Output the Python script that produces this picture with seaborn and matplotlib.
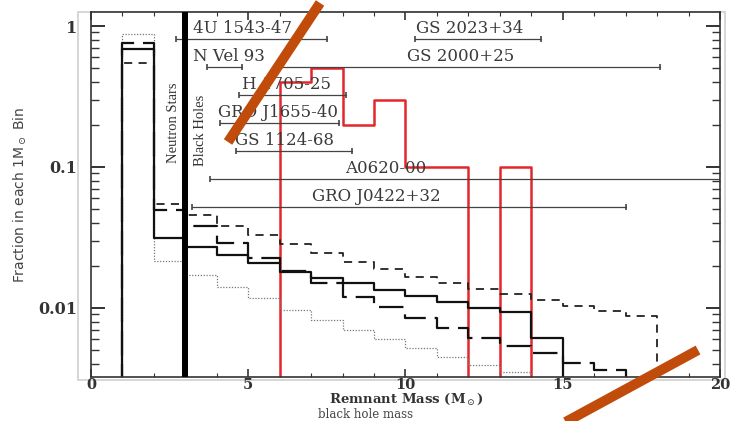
import numpy as np
import pandas as pd
import matplotlib
matplotlib.use("Agg")
import matplotlib.pyplot as plt
import seaborn as sns
from matplotlib.ticker import FixedLocator, LogLocator, NullFormatter, MultipleLocator
from matplotlib.lines import Line2D
from matplotlib.patches import Rectangle

# ---------------- data (fraction in each 1 Msun bin) ----------------
bin_start = 1  # first bin of the model distributions starts at 1 Msun
model_solid = [0.687, 0.0314, 0.0271, 0.0238, 0.0208, 0.0180, 0.0163, 0.0150,
               0.0134, 0.0122, 0.0110, 0.0100, 0.00937, 0.00613]
model_longdash = [0.758, 0.0495, 0.0382, 0.0289, 0.0226, 0.0183, 0.0150, 0.0120,
                  0.0102, 0.00850, 0.00721, 0.00613, 0.00538, 0.00480, 0.00407, 0.00363]
model_shortdash = [0.547, 0.0547, 0.0457, 0.0382, 0.0329, 0.0284, 0.0245, 0.0212,
                   0.0189, 0.0166, 0.0150, 0.0136, 0.0126, 0.0114, 0.0103, 0.00952, 0.00878]
model_dotted = [0.878, 0.0215, 0.0171, 0.0141, 0.0118, 0.00968, 0.00822, 0.00698,
                0.00603, 0.00520, 0.00449, 0.00394, 0.00352]

observed_start = 6
observed_bh = [0.4, 0.5, 0.2, 0.3, 0.1, 0.1, 0.0, 0.1]

ns_bh_boundary = 3

systems = ["4U 1543-47", "GS 2023+34", "N Vel 93", "GS 2000+25", "H 1705-25",
           "GRO J1655-40", "GS 1124-68", "A0620-00", "GRO J0422+32"]
mass_lo = [2.7, 10.3, 3.7, 5.9, 4.7, 4.1, 4.6, 3.8, 3.2]
mass_hi = [7.5, 14.3, 4.8, 18.1, 8.1, 7.9, 8.3, 25.0, 17.0]

# ---------------- layout (not data) ----------------
system_row = [0, 0, 1, 1, 2, 3, 4, 5, 6]
label_x = [3.25, 10.32, 3.25, 10.06, 4.81, 4.04, 4.59, 8.09, 7.04]
row_top, row_step, label_dy = 0.926, 0.0767, 0.030
BASE = 1e-5


def steps(start, vals):
    v = np.asarray(vals, dtype=float)
    v = np.where(v > 0, v, BASE)
    edges = start + np.arange(len(v) + 1)
    return pd.DataFrame({"mass": np.repeat(edges, 2),
                         "frac": np.r_[BASE, np.repeat(v, 2), BASE]})


sns.set_theme(style="ticks")
plt.rcParams["font.family"] = ["DejaVu Serif", "DejaVu Sans"]
plt.rcParams["mathtext.fontset"] = "dejavuserif"

fig = plt.figure(figsize=(7.32, 4.21), dpi=100)
ax = fig.add_axes([0.1243, 0.1045, 0.8593, 0.867])
ax.set_yscale("log")
ax.set_xlim(0, 20)
ax.set_ylim(0.00324, 1.257)

# ghost frame from the scan
fig.add_artist(Rectangle((0.1066, 0.0974), 0.8838, 0.8741, transform=fig.transFigure,
                         fill=False, ec="#cfcfcf", lw=1.2, zorder=0))

# observed black-hole mass histogram
sns.lineplot(data=steps(observed_start, observed_bh), x="mass", y="frac", sort=False,
             estimator=None, color="#e3262a", lw=1.8, ax=ax)

styles = [
    (model_dotted, dict(color="#777777", lw=0.9, linestyle=(0, (1, 1.3)))),
    (model_shortdash, dict(color="#222222", lw=1.3, linestyle=(0, (4.5, 3.5)))),
    (model_longdash, dict(color="#111111", lw=1.6, linestyle=(0, (11, 4)))),
    (model_solid, dict(color="#111111", lw=1.6, linestyle="-")),
]
for vals, kw in styles:
    sns.lineplot(data=steps(bin_start, vals), x="mass", y="frac", sort=False,
                 estimator=None, ax=ax, **kw)

ax.axvline(ns_bh_boundary, color="black", lw=4.3, zorder=5)
xt = ax.get_xaxis_transform()
ax.text(ns_bh_boundary - 0.39, 0.696, "Neutron Stars", transform=xt, rotation=90,
        ha="center", va="center", fontsize=10.5, family="Liberation Serif", color="#333")
ax.text(ns_bh_boundary + 0.47, 0.677, "Black Holes", transform=xt, rotation=90,
        ha="center", va="center", fontsize=10.5, family="Liberation Serif", color="#333")

# mass ranges of observed systems
for name, lo, hi, r, lx in zip(systems, mass_lo, mass_hi, system_row, label_x):
    y = row_top - row_step * r
    ax.plot([lo, hi], [y, y], color="#444444", lw=0.9, marker="|", markersize=5,
            markeredgewidth=1.2, transform=xt)
    ax.text(lx, y + label_dy, name, transform=xt, ha="left", va="center",
            fontsize=12, color="#3a3a3a")

# axes styling
ax.xaxis.set_major_locator(FixedLocator([0, 5, 10, 15, 20]))
ax.xaxis.set_minor_locator(MultipleLocator(1))
ax.yaxis.set_major_locator(FixedLocator([0.01, 0.1, 1]))
ax.set_yticklabels(["0.01", "0.1", "1"])
ax.yaxis.set_minor_locator(LogLocator(base=10, subs=np.arange(2, 10), numticks=20))
ax.yaxis.set_minor_formatter(NullFormatter())
ax.tick_params(which="both", direction="in", top=True, right=True, color="#333")
ax.tick_params(axis="x", which="major", length=6, width=1.2, pad=1)
ax.tick_params(axis="x", which="minor", length=3, width=0.8)
ax.tick_params(axis="y", which="major", length=10, width=1.4, pad=10)
ax.tick_params(axis="y", which="minor", length=5.5, width=1.0)
for lbl in ax.get_xticklabels():
    lbl.set_fontsize(10.5)
for lbl in ax.get_yticklabels():
    lbl.set_fontsize(11.5)
for lbl in ax.get_xticklabels() + ax.get_yticklabels():
    lbl.set_fontweight("bold")
    lbl.set_color("#333333")
for s in ax.spines.values():
    s.set_color("#333333")
    s.set_linewidth(1.2)

ax.set_xlabel(r"Remnant Mass (M$_\odot$)", fontsize=9.5, fontweight="bold", color="#333")
ax.xaxis.set_label_coords(0.502, -0.041)
ax.set_ylabel(r"Fraction in each 1M$_\odot$ Bin", fontsize=10, family="DejaVu Sans",
              color="#444")
ax.yaxis.set_label_coords(-0.0986, 0.5)
fig.text(0.500, 0.0005, "black hole mass", ha="center", va="bottom", fontsize=8.5,
         color="#444")

# orange annotation strokes
fig.add_artist(Line2D([0.3115, 0.4372], [0.6627, 0.9929], transform=fig.transFigure,
                      color="#c14b0a", lw=7.2, solid_capstyle="butt"))
fig.add_artist(Line2D([0.9536, 0.7678], [0.1686, -0.007], transform=fig.transFigure,
                      color="#c14b0a", lw=7.2, solid_capstyle="butt"))

fig.savefig("out.png", dpi=100)
